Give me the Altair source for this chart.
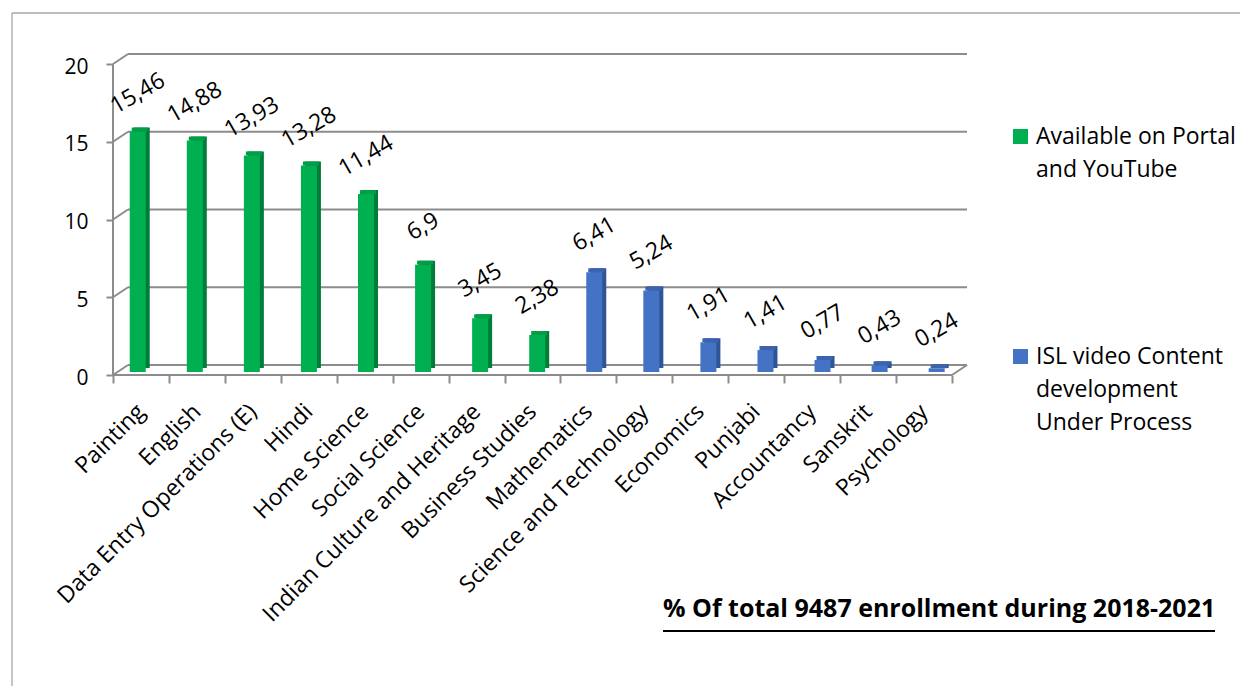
import altair as alt
import pandas as pd

# ---- data -----------------------------------------------------------------
subjects = [
    "Painting", "English", "Data Entry Operations (E)", "Hindi", "Home Science",
    "Social Science", "Indian Culture and Heritage", "Business Studies",
    "Mathematics", "Science and Technology", "Economics", "Punjabi",
    "Accountancy", "Sanskrit", "Psychology",
]
shares = [15.46, 14.88, 13.93, 13.28, 11.44, 6.9, 3.45, 2.38,
          6.41, 5.24, 1.91, 1.41, 0.77, 0.43, 0.24]
series_names = [
    "Available on Portal and YouTube",
    "ISL video Content development Under Process",
]
series_of_subject = [series_names[0]] * 8 + [series_names[1]] * 7
y_ticks = [0, 5, 10, 15, 20]
heading = "% Of total 9487 enrollment during 2018-2021"

df = pd.DataFrame({"subject": subjects, "share": shares, "series": series_of_subject})
df["label"] = [f"{v:g}".replace(".", ",") for v in shares]
ticks_df = pd.DataFrame({"tick": y_ticks})
one_row = pd.DataFrame({"t": [heading]})

# ---- style ----------------------------------------------------------------
FONT = "Open Sans"
GRID = "#8c8c8c"
FRONT = ["#00B050", "#4472C4"]
SIDE = ["#007D38", "#2F5597"]
TOP = ["#009E46", "#3B63AE"]

W, H = 839, 311          # front face of the 3D box
BACK_DX, BACK_DY = 15, -10

yscale = alt.Scale(domain=[0, 20], nice=False)
yaxis = alt.Axis(
    title=None, domain=False, grid=False, values=y_ticks,
    tickSize=7, tickWidth=2, tickColor=GRID, tickOffset=3,
    labelOffset=3, labelPadding=18, labelFontSize=21, labelFont=FONT,
    labelColor="black",
)

# bars sit a little behind the front edge, so they use their own band scale
bar_x = alt.X("subject:N", sort=subjects, axis=None,
              scale=alt.Scale(type="band", range=[-3.8, 852.2],
                              paddingInner=0, paddingOuter=0))
bar_y = alt.Y("share:Q", scale=yscale, axis=yaxis)

def series_color(rng, legend=None):
    return alt.Color("series:N", scale=alt.Scale(domain=series_names, range=rng),
                     legend=legend)

legend = alt.Legend(
    title=None, orient="none", legendX=896, legendY=64, direction="vertical",
    symbolType="square", symbolSize=225, symbolStrokeWidth=0,
    labelFontSize=23, labelFont=FONT, labelColor="black", labelLimit=400,
    labelOffset=4, rowPadding=163, labelBaseline="middle",
    labelExpr=("datum.label == 'Available on Portal and YouTube' ? "
               "['Available on Portal', 'and YouTube'] : "
               "['ISL video Content', 'development', 'Under Process']"),
)

# back wall gridlines
grid = alt.Chart(ticks_df).mark_rule(color=GRID, strokeWidth=2, yOffset=BACK_DY + 3).encode(
    y=alt.Y("tick:Q", scale=yscale, axis=yaxis),
    x=alt.value(BACK_DX), x2=alt.value(W + BACK_DX),
)
# left wall: front tick to back gridline
connectors = alt.Chart(ticks_df).mark_rule(
    color=GRID, strokeWidth=2, yOffset=3, y2Offset=BACK_DY + 3
).encode(
    y=alt.Y("tick:Q", scale=yscale, axis=yaxis), y2=alt.Y2("tick:Q"),
    x=alt.value(0), x2=alt.value(BACK_DX),
)
# front vertical axis line
front_axis = alt.Chart(one_row).mark_rule(
    color=GRID, strokeWidth=2, yOffset=3, y2Offset=3
).encode(
    y=alt.Y(datum=20, scale=yscale, axis=yaxis), y2=alt.Y2(datum=0),
    x=alt.value(0),
)
# floor: front edge and right edge
floor_front = alt.Chart(one_row).mark_rule(color=GRID, strokeWidth=2, yOffset=3).encode(
    y=alt.Y(datum=0, scale=yscale, axis=yaxis), x=alt.value(0), x2=alt.value(W),
)
floor_right = alt.Chart(one_row).mark_rule(
    color=GRID, strokeWidth=2, yOffset=3, y2Offset=BACK_DY + 3
).encode(
    y=alt.Y(datum=0, scale=yscale, axis=yaxis), y2=alt.Y2(datum=0),
    x=alt.value(W), x2=alt.value(W + BACK_DX),
)

# category axis along the front edge of the floor
cat_axis = alt.Chart(df).mark_point(opacity=0).encode(
    x=alt.X("subject:N", sort=subjects,
            scale=alt.Scale(type="band", paddingInner=0, paddingOuter=0),
            axis=alt.Axis(
                title=None, domain=False, grid=False, offset=3,
                ticks=True, tickBand="extent", tickSize=8, tickWidth=2, tickColor=GRID,
                labelAngle=-45, labelAlign="right", labelBaseline="top",
                labelPadding=17, labelOffset=-8, labelFontSize=23, labelFont=FONT,
                labelColor="black", labelLimit=400,
            )),
)

# 3D columns: side, top and front faces
side = alt.Chart(df).mark_bar(size=16, xOffset=4, yOffset=-4, y2Offset=-4).encode(
    x=bar_x, y=bar_y, color=series_color(SIDE),
)
top = alt.Chart(df).mark_bar(size=16, xOffset=2, yOffset=-4).encode(
    x=bar_x, y=bar_y, y2=alt.Y2("share:Q"), color=series_color(TOP),
)
front = alt.Chart(df).mark_bar(size=16).encode(
    x=bar_x, y=bar_y, color=series_color(FRONT, legend),
)
values = alt.Chart(df).mark_text(
    angle=330, align="center", baseline="middle", yOffset=-38,
    font=FONT, fontSize=23, color="black",
).encode(x=bar_x, y=bar_y, text="label:N")

# caption with underline
caption = alt.Chart(one_row).mark_text(
    align="left", baseline="alphabetic", font=FONT, fontSize=25,
    fontWeight="bold", color="black",
).encode(text="t:N", x=alt.value(550), y=alt.value(556))
underline = alt.Chart(one_row).mark_rule(color="black", strokeWidth=2).encode(
    x=alt.value(550), x2=alt.value(1102), y=alt.value(570),
)

# outer chart frame
frame_top = alt.Chart(one_row).mark_rule(color="#a6a6a6", strokeWidth=1.3).encode(
    x=alt.value(-101), x2=alt.value(1140), y=alt.value(-48),
)
frame_left = alt.Chart(one_row).mark_rule(color="#a6a6a6", strokeWidth=1.3).encode(
    x=alt.value(-101), y=alt.value(-48), y2=alt.value(640),
)

chart = alt.layer(
    frame_top, frame_left, grid, connectors, front_axis, floor_front, floor_right,
    cat_axis, side, top, front, values, caption, underline,
).resolve_scale(
    x="independent", color="independent"
).properties(
    width=W, height=H,
    padding={"left": 113, "top": 61, "right": 288, "bottom": 314},
    autosize=alt.AutoSizeParams(type="none"),
    background="white",
).configure(
    style={"guide-label": {"lineHeight": 33}}
).configure_view(stroke=None)

chart.save("out.html", embed_options={"renderer": "svg", "actions": False})
